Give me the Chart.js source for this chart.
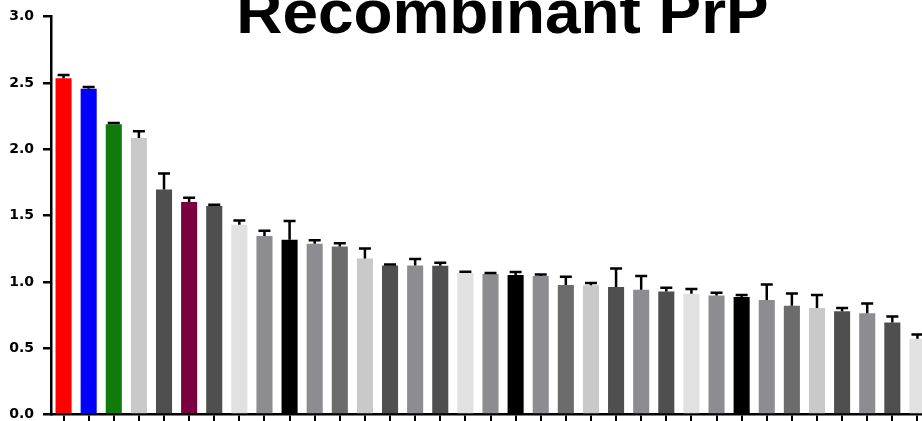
<!DOCTYPE html>
<html>
<head>
<meta charset="utf-8">
<script src="https://cdn.jsdelivr.net/npm/chart.js@4.4.1/dist/chart.umd.min.js"></script>
<style>
  html, body { margin: 0; padding: 0; background: #fff; overflow: hidden; }
  #chart { display: block; }
</style>
</head>
<body>
<canvas id="chart" width="930" height="421"></canvas>
<script>
// sample labels are cropped off in the source picture
const categories = ['S1', 'S2', 'S3', 'S4', 'S5', 'S6', 'S7', 'S8', 'S9', 'S10',
  'S11', 'S12', 'S13', 'S14', 'S15', 'S16', 'S17', 'S18', 'S19', 'S20',
  'S21', 'S22', 'S23', 'S24', 'S25', 'S26', 'S27', 'S28', 'S29', 'S30',
  'S31', 'S32', 'S33', 'S34', 'S35'];

const means = [2.535, 2.457, 2.189, 2.086, 1.697, 1.602, 1.572, 1.431, 1.346, 1.318,
  1.288, 1.267, 1.177, 1.124, 1.124, 1.122, 1.069, 1.059, 1.052, 1.044,
  0.977, 0.974, 0.962, 0.941, 0.928, 0.911, 0.898, 0.886, 0.864, 0.821,
  0.803, 0.778, 0.763, 0.693, 0.572];

// upper error (SEM) only
const errors = [0.025, 0.012, 0.009, 0.050, 0.120, 0.032, 0.009, 0.032, 0.039, 0.142,
  0.027, 0.025, 0.075, 0.007, 0.048, 0.022, 0.007, 0.008, 0.022, 0.012,
  0.062, 0.017, 0.139, 0.103, 0.028, 0.035, 0.020, 0.015, 0.117, 0.092,
  0.098, 0.025, 0.075, 0.047, 0.032];

const RED = '#fe0000', BLUE = '#0000fe', GREEN = '#107b0a', MAROON = '#7b003f';
const BLK = '#000000', DARK = '#4f4f4f', DIM = '#6c6c6c', MID = '#8d8d91', LIGHT = '#c9c9c9', PALE = '#e1e1e1';

const barColors = [RED, BLUE, GREEN, LIGHT, DARK, MAROON, DARK, PALE, MID, BLK,
  MID, DIM, LIGHT, DARK, MID, DARK, PALE, MID, BLK, MID,
  DIM, LIGHT, DARK, MID, DARK, PALE, MID, BLK, MID, DIM,
  LIGHT, DARK, MID, DARK, PALE];

const titleText = 'Recombinant PrP';

const errorBars = {
  id: 'errorBars',
  afterDatasetsDraw(chart) {
    const { ctx, scales: { y } } = chart;
    const meta = chart.getDatasetMeta(0);
    ctx.save();
    ctx.strokeStyle = '#000';
    ctx.lineWidth = 2.5;
    meta.data.forEach((bar, i) => {
      const top = y.getPixelForValue(means[i] + errors[i]);
      ctx.beginPath();
      ctx.moveTo(bar.x, bar.y);
      ctx.lineTo(bar.x, top);
      ctx.moveTo(bar.x - 6, top);
      ctx.lineTo(bar.x + 6, top);
      ctx.stroke();
    });
    ctx.restore();
  }
};

// big title, partly cut off at the top like the original
const bigTitle = {
  id: 'bigTitle',
  afterDraw(chart) {
    const ctx = chart.ctx;
    ctx.save();
    ctx.fillStyle = '#000';
    ctx.font = 'bold 62px "Liberation Sans", Arial, sans-serif';
    ctx.textAlign = 'center';
    ctx.textBaseline = 'alphabetic';
    ctx.translate(502.5, 32.5);
    ctx.scale(1.03, 1);
    ctx.fillText(titleText, 0, 0);
    ctx.restore();
  }
};

new Chart(document.getElementById('chart'), {
  type: 'bar',
  data: {
    labels: categories,
    datasets: [{
      data: means,
      backgroundColor: barColors,
      borderWidth: 0,
      categoryPercentage: 1,
      barPercentage: 0.64
    }]
  },
  options: {
    responsive: false,
    animation: false,
    devicePixelRatio: 1,
    layout: { padding: { top: 16.7, right: 0, bottom: 0, left: 0 } },
    plugins: { legend: { display: false }, tooltip: { enabled: false }, title: { display: false } },
    scales: {
      x: {
        offset: true,
        grid: { offset: false, drawOnChartArea: false, drawTicks: true, tickLength: 10, lineWidth: 2, color: '#000' },
        border: { display: true, color: '#000', width: 2.5 },
        ticks: { display: false },
        afterFit(scale) { scale.height = 6.5; }
      },
      y: {
        min: 0,
        max: 3,
        ticks: {
          stepSize: 0.5,
          color: '#000',
          padding: 9,
          font: { family: 'DejaVu Sans', weight: 'bold', size: 14 },
          callback: v => v.toFixed(1)
        },
        grid: { drawOnChartArea: false, tickLength: 8, lineWidth: 2.5, color: '#000' },
        border: { color: '#000', width: 2.5 },
        afterFit(scale) {
          scale.width = 51;
          // label overhang is allowed to spill past the plot edges
          scale.paddingTop = 0;
          scale.paddingBottom = 0;
        }
      }
    }
  },
  plugins: [errorBars, bigTitle]
});
</script>
</body>
</html>
